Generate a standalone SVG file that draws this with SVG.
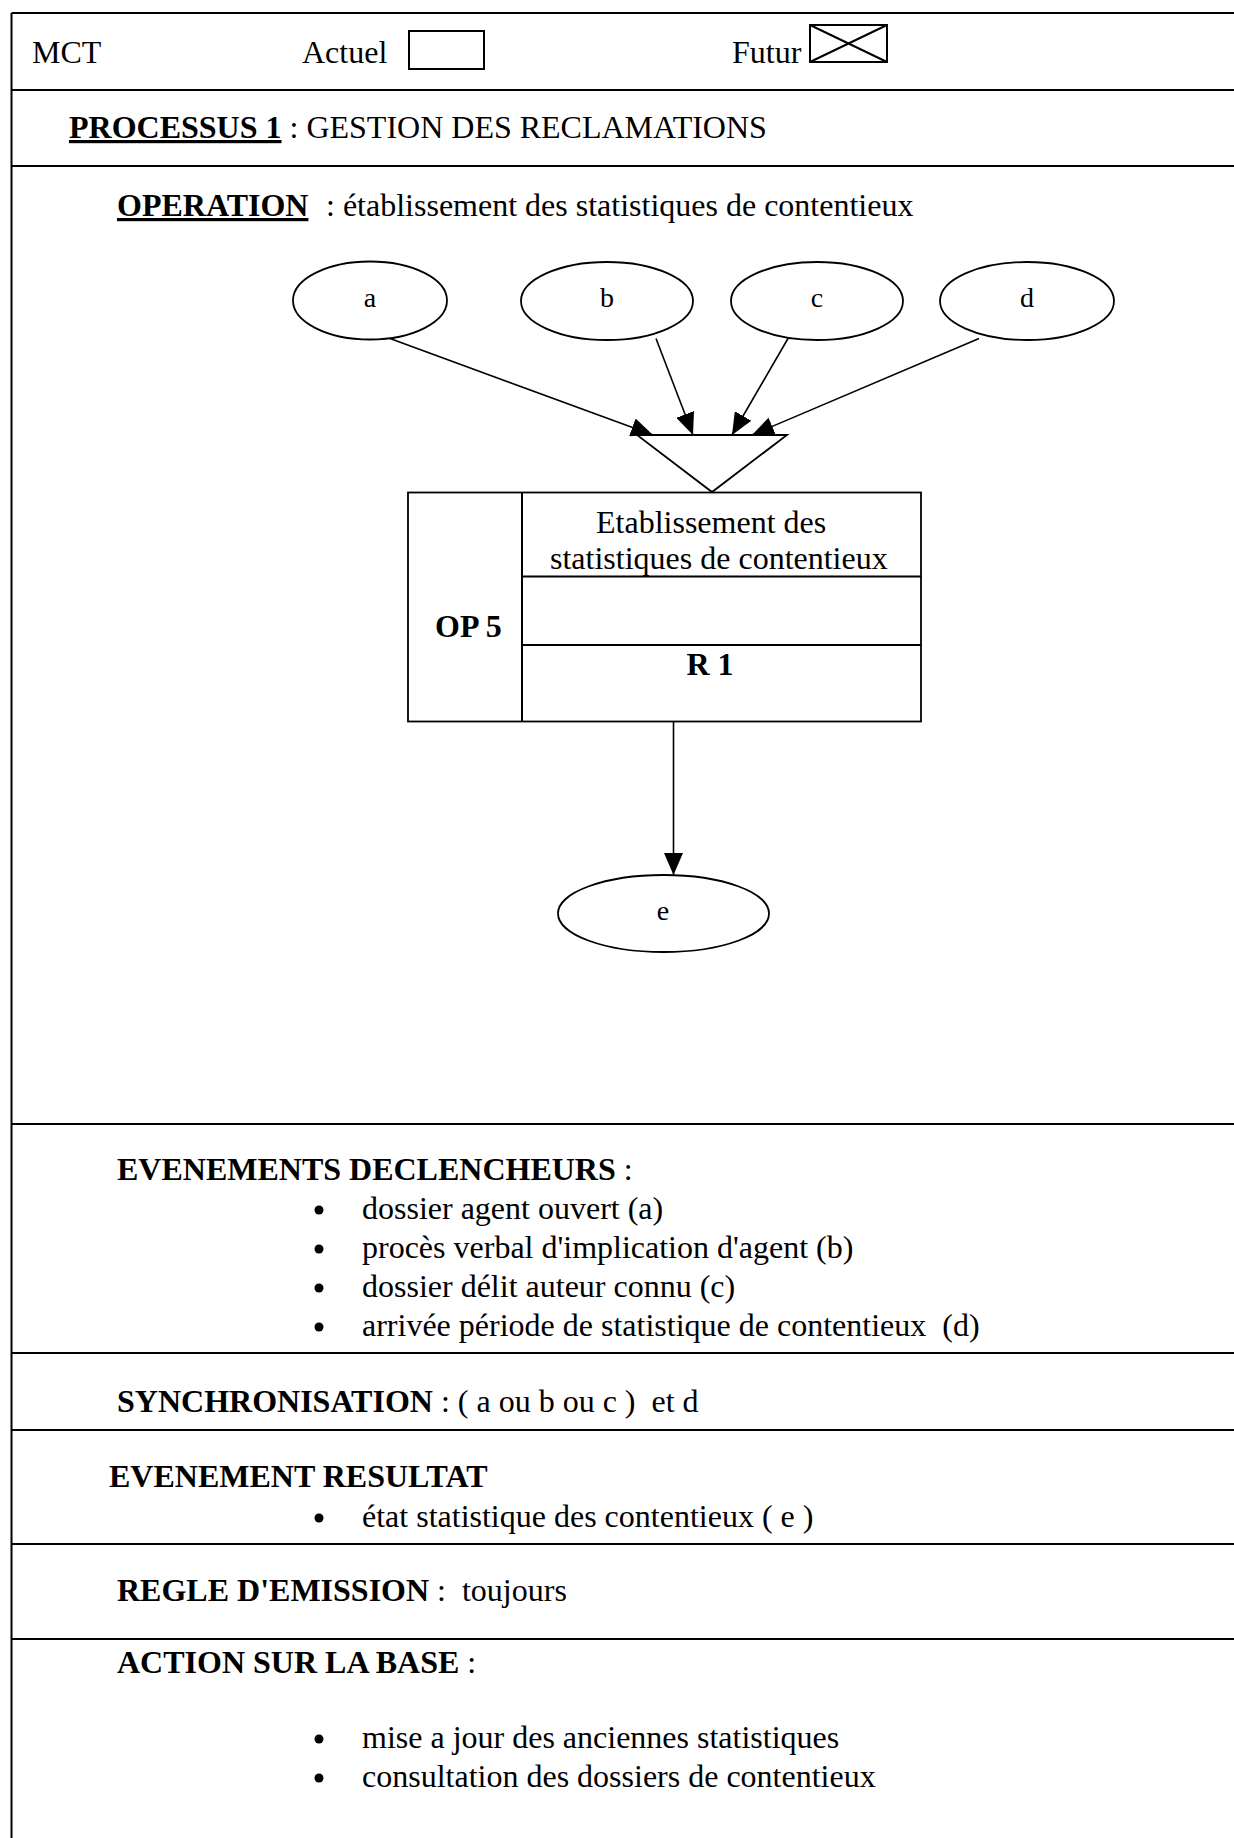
<svg xmlns="http://www.w3.org/2000/svg" width="1234" height="1838" viewBox="0 0 1234 1838">
  <style>
    text { font-family: "Liberation Serif", "Times New Roman", serif; font-size: 32px; fill: #000; white-space: pre; }
    .b { font-weight: bold; }
    .u { text-decoration: underline; }
    .lbl { font-size: 28px; text-anchor: middle; }
    .mid { text-anchor: middle; }
    .rule { stroke: #000; stroke-width: 2; fill: none; }
    .shape { stroke: #000; stroke-width: 1.8; fill: #fff; }
    .edge { stroke: #000; stroke-width: 1.6; fill: none; marker-end: url(#arrow); }
    .dot { fill: #000; }
  </style>
  <defs>
    <marker id="arrow" markerUnits="userSpaceOnUse" markerWidth="22" markerHeight="19" refX="22" refY="9.5" orient="auto">
      <path d="M0,0 L22,9.5 L0,19 z" fill="#000"/>
    </marker>
  </defs>

  <rect width="1234" height="1838" fill="#fff"/>

  <!-- form frame: left border and horizontal section rules -->
  <g id="frame">
    <line class="rule" x1="11.5" y1="13" x2="11.5" y2="1838"/>
    <line class="rule" x1="11.5" y1="13" x2="1234" y2="13"/>
    <line class="rule" x1="11.5" y1="90" x2="1234" y2="90"/>
    <line class="rule" x1="11.5" y1="166" x2="1234" y2="166"/>
    <line class="rule" x1="11.5" y1="1124" x2="1234" y2="1124"/>
    <line class="rule" x1="11.5" y1="1353" x2="1234" y2="1353"/>
    <line class="rule" x1="11.5" y1="1430" x2="1234" y2="1430"/>
    <line class="rule" x1="11.5" y1="1544" x2="1234" y2="1544"/>
    <line class="rule" x1="11.5" y1="1639" x2="1234" y2="1639"/>
  </g>

  <!-- header row -->
  <g id="header">
    <text x="32" y="63">MCT</text>
    <text x="302" y="63">Actuel</text>
    <rect class="rule" x="409" y="31" width="75" height="38"/>
    <text x="732" y="63">Futur</text>
    <rect class="rule" x="810" y="25" width="77" height="37"/>
    <line class="rule" stroke-width="1.6" x1="810" y1="25" x2="887" y2="62"/>
    <line class="rule" stroke-width="1.6" x1="810" y1="62" x2="887" y2="25"/>
  </g>

  <g id="process-title">
    <text x="69" y="138"><tspan class="b u">PROCESSUS 1</tspan> : GESTION DES RECLAMATIONS</text>
  </g>

  <g id="operation-title">
    <text x="117" y="216" class="b u">OPERATION</text>
    <text x="326" y="216">: établissement des statistiques de contentieux</text>
  </g>

  <!-- trigger events -->
  <g id="event-a">
    <ellipse class="shape" cx="370" cy="300.5" rx="77" ry="39"/>
    <text class="lbl" x="370" y="307">a</text>
  </g>
  <g id="event-b">
    <ellipse class="shape" cx="607" cy="301" rx="86" ry="39"/>
    <text class="lbl" x="607" y="307">b</text>
  </g>
  <g id="event-c">
    <ellipse class="shape" cx="817" cy="301" rx="86" ry="39"/>
    <text class="lbl" x="817" y="307">c</text>
  </g>
  <g id="event-d">
    <ellipse class="shape" cx="1027" cy="301" rx="87" ry="39"/>
    <text class="lbl" x="1027" y="307">d</text>
  </g>

  <!-- synchronisation triangle -->
  <g id="sync">
    <polygon class="shape" points="637,435 787,435 712,492"/>
  </g>

  <!-- operation box -->
  <g id="op5">
    <rect class="shape" x="408" y="492.5" width="513" height="229"/>
    <line class="rule" x1="522" y1="492.5" x2="522" y2="721.5"/>
    <line class="rule" x1="522" y1="576.5" x2="921" y2="576.5"/>
    <line class="rule" x1="522" y1="645" x2="921" y2="645"/>
    <text x="596" y="533">Etablissement des</text>
    <text x="550" y="569">statistiques de contentieux</text>
    <text class="b" x="435" y="637">OP 5</text>
    <text class="b mid" x="710" y="675">R 1</text>
  </g>

  <!-- result event -->
  <g id="event-e">
    <ellipse class="shape" cx="663.5" cy="913.5" rx="105.5" ry="38.5"/>
    <text class="lbl" x="663" y="920">e</text>
  </g>

  <!-- connectors -->
  <g id="connectors">
    <line class="edge" x1="390" y1="338.5" x2="653" y2="435"/>
    <line class="edge" x1="656" y1="338.5" x2="693" y2="435"/>
    <line class="edge" x1="788" y1="338.5" x2="732" y2="435"/>
    <line class="edge" x1="979" y1="338.5" x2="752" y2="435"/>
    <line class="edge" x1="673.5" y1="722" x2="673.5" y2="875"/>
  </g>

  <!-- description sections -->
  <g id="triggers">
    <text x="117" y="1180"><tspan class="b">EVENEMENTS DECLENCHEURS</tspan> :</text>
    <circle class="dot" cx="319" cy="1210" r="4.5"/>
    <text x="362" y="1219">dossier agent ouvert (a)</text>
    <circle class="dot" cx="319" cy="1249" r="4.5"/>
    <text x="362" y="1258">procès verbal d'implication d'agent (b)</text>
    <circle class="dot" cx="319" cy="1288" r="4.5"/>
    <text x="362" y="1297">dossier délit auteur connu (c)</text>
    <circle class="dot" cx="319" cy="1327" r="4.5"/>
    <text x="362" y="1336">arrivée période de statistique de contentieux  (d)</text>
  </g>

  <g id="synchronisation">
    <text x="117" y="1412"><tspan class="b">SYNCHRONISATION</tspan> : ( a ou b ou c )  et d</text>
  </g>

  <g id="result">
    <text class="b" x="109" y="1487">EVENEMENT RESULTAT</text>
    <circle class="dot" cx="319" cy="1518" r="4.5"/>
    <text x="362" y="1527">état statistique des contentieux ( e )</text>
  </g>

  <g id="emission">
    <text x="117" y="1601"><tspan class="b">REGLE D'EMISSION</tspan> :  toujours</text>
  </g>

  <g id="actions">
    <text x="117" y="1673"><tspan class="b">ACTION SUR LA BASE</tspan> :</text>
    <circle class="dot" cx="319" cy="1739" r="4.5"/>
    <text x="362" y="1748">mise a jour des anciennes statistiques</text>
    <circle class="dot" cx="319" cy="1778" r="4.5"/>
    <text x="362" y="1787">consultation des dossiers de contentieux</text>
  </g>
</svg>
